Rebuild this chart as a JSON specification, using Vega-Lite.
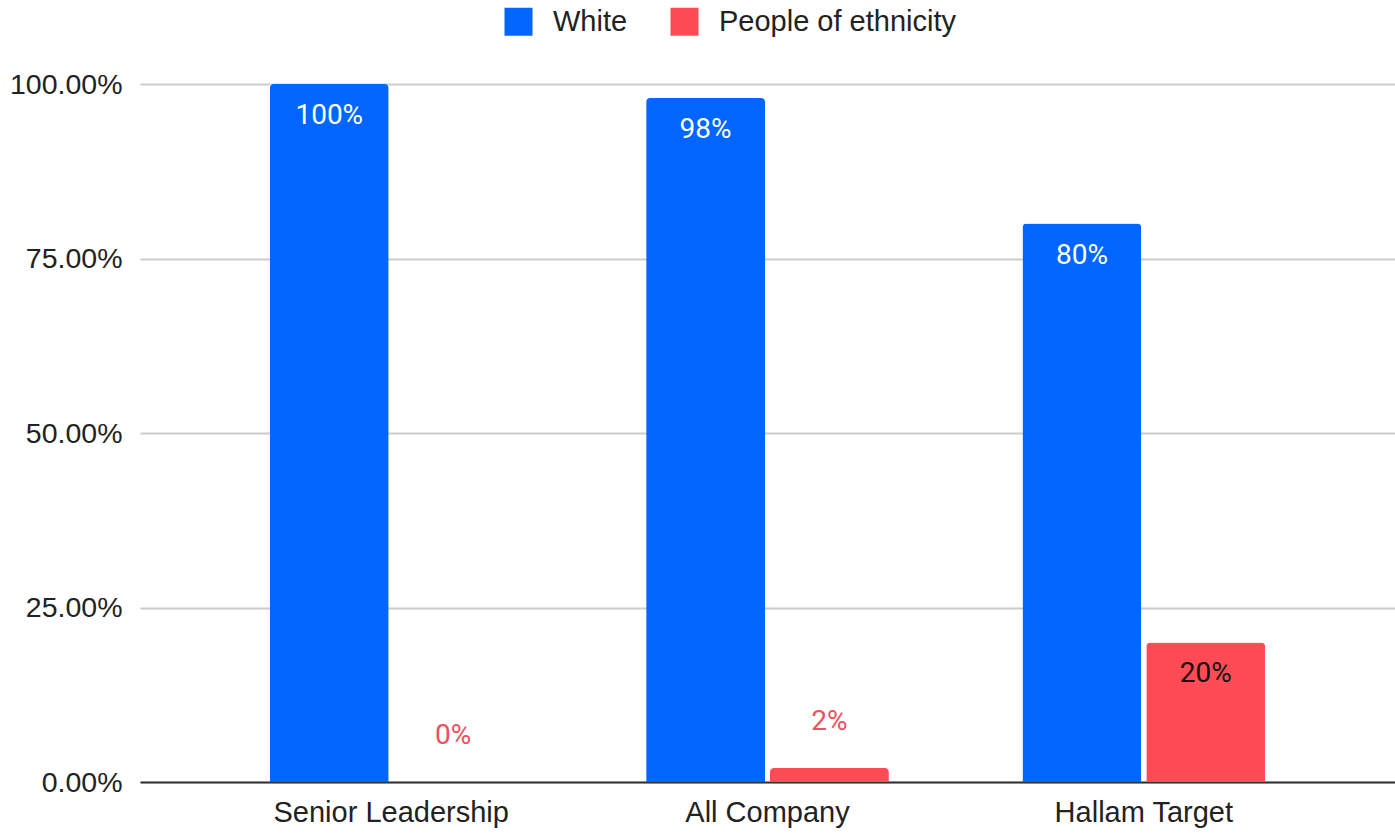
{
  "$schema": "https://vega.github.io/schema/vega-lite/v6.json",
  "width": 1255,
  "height": 698,
  "autosize": "none",
  "padding": {"left": 140, "top": 84, "right": 0, "bottom": 52},
  "background": "white",
  "config": {
    "view": {"stroke": null},
    "font": "Liberation Sans"
  },
  "data": {
    "values": [
      {"category": "Senior Leadership", "series": "White", "value": 1.0},
      {"category": "Senior Leadership", "series": "People of ethnicity", "value": 0.0},
      {"category": "All Company", "series": "White", "value": 0.98},
      {"category": "All Company", "series": "People of ethnicity", "value": 0.02},
      {"category": "Hallam Target", "series": "White", "value": 0.8},
      {"category": "Hallam Target", "series": "People of ethnicity", "value": 0.2}
    ]
  },
  "encoding": {
    "x": {
      "field": "category",
      "type": "nominal",
      "sort": ["Senior Leadership", "All Company", "Hallam Target"],
      "scale": {"paddingInner": 0.355, "paddingOuter": 0.345},
      "axis": {
        "title": null,
        "labelAngle": 0,
        "labelFontSize": 29,
        "labelLimit": 0,
        "labelColor": "#222222",
        "labelPadding": 16,
        "ticks": false,
        "domainColor": "#333333",
        "domainWidth": 2
      }
    },
    "xOffset": {
      "field": "series",
      "type": "nominal",
      "sort": ["White", "People of ethnicity"],
      "scale": {"paddingInner": 0.04}
    },
    "y": {
      "field": "value",
      "type": "quantitative",
      "scale": {"domain": [0, 1]},
      "axis": {
        "title": null,
        "values": [0, 0.25, 0.5, 0.75, 1],
        "format": ".2%",
        "labelFontSize": 28.5,
        "labelLimit": 0,
        "labelColor": "#222222",
        "labelPadding": 18,
        "ticks": false,
        "domain": false,
        "gridColor": "#cccccc",
        "gridWidth": 2
      }
    }
  },
  "layer": [
    {
      "mark": {"type": "bar", "cornerRadiusTopLeft": 4, "cornerRadiusTopRight": 4},
      "encoding": {
        "color": {
          "field": "series",
          "type": "nominal",
          "sort": ["White", "People of ethnicity"],
          "scale": {"domain": ["White", "People of ethnicity"], "range": ["#0066ff", "#ff4b55"]},
          "legend": {
            "title": null,
            "orient": "none",
            "direction": "horizontal",
            "legendX": 364,
            "legendY": -77,
            "symbolType": "square",
            "symbolSize": 784,
            "symbolStrokeWidth": 0,
            "labelFontSize": 29,
            "labelLimit": 0,
            "labelColor": "#222222",
            "labelOffset": 20,
            "columnPadding": 42
          }
        }
      }
    },
    {
      "transform": [{"filter": "datum.series === 'White'"}],
      "mark": {"type": "text", "baseline": "middle", "dy": 32, "font": "Roboto", "fontSize": 28, "color": "white"},
      "encoding": {"text": {"field": "value", "type": "quantitative", "format": ".0%"}}
    },
    {
      "transform": [{"filter": "datum.series === 'People of ethnicity' && datum.value >= 0.1"}],
      "mark": {"type": "text", "baseline": "middle", "dy": 32, "font": "Roboto", "fontSize": 28, "color": "#111111"},
      "encoding": {"text": {"field": "value", "type": "quantitative", "format": ".0%"}}
    },
    {
      "transform": [{"filter": "datum.series === 'People of ethnicity' && datum.value < 0.1"}],
      "mark": {"type": "text", "baseline": "middle", "dy": -46, "font": "Roboto", "fontSize": 28, "color": "#f0505a"},
      "encoding": {"text": {"field": "value", "type": "quantitative", "format": ".0%"}}
    }
  ]
}
